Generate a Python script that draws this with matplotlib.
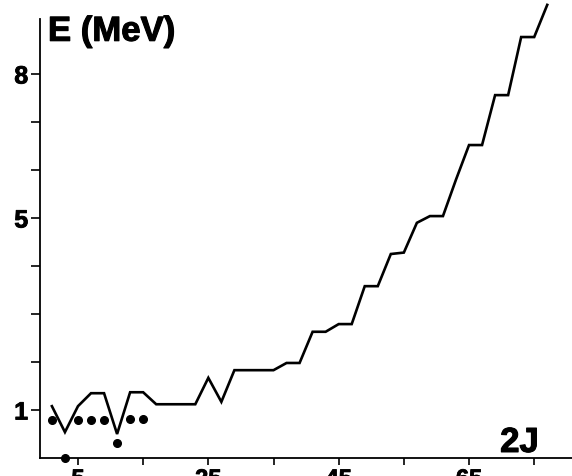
import matplotlib
matplotlib.use("Agg")
import matplotlib.pyplot as plt
import matplotlib.patheffects as pe

# data
two_j = [1, 3, 5, 7, 9, 11, 13, 15, 17, 19, 21, 23, 25, 27, 29, 31, 33, 35, 37, 39,
         41, 43, 45, 47, 49, 51, 53, 55, 57, 59, 61, 63, 65, 67, 69, 71, 73, 75, 77]
energy = [1.08, 0.54, 1.08, 1.35, 1.35, 0.50, 1.37, 1.37, 1.12, 1.12, 1.12, 1.12, 1.67, 1.17,
          1.83, 1.83, 1.83, 1.83, 1.98, 1.98, 2.63, 2.63, 2.79, 2.79, 3.58, 3.58, 4.25, 4.28,
          4.90, 5.04, 5.04, 5.80, 6.52, 6.52, 7.56, 7.56, 8.77, 8.77, 9.44]
dot_j = [1, 3, 5, 7, 9, 11, 13, 15]
dot_e = [0.80, 0.0, 0.80, 0.80, 0.80, 0.31, 0.81, 0.81]

x_ticks = [5, 15, 25, 35, 45, 55, 65, 75]
x_ticklabels = ["5", "", "25", "", "45", "", "65", ""]
y_ticks = [1, 2, 3, 4, 5, 6, 7, 8]
y_ticklabels = ["1", "", "", "", "5", "", "", "8"]

plt.rcParams['font.family'] = ['Liberation Sans', 'DejaVu Sans']

fig = plt.figure(figsize=(5.72, 4.77), dpi=100)
ax = fig.add_axes([0.0699, 0.0377, 0.9301, 0.956])

ax.plot(two_j, energy, color='black', lw=1.9, solid_joinstyle='miter')
ax.plot(dot_j, dot_e, 'o', color='black', ms=5.5, clip_on=False, zorder=5)

ax.set_xlim(-0.83, 80.8)
ax.set_ylim(0, 9.5)

for s in ['top', 'right']:
    ax.spines[s].set_visible(False)
ax.spines['left'].set_bounds(0, 9.15)
ax.spines['left'].set_linewidth(1.3)
ax.spines['bottom'].set_linewidth(1.3)

thick = [pe.withStroke(linewidth=0.6, foreground='black')]

ax.set_xticks(x_ticks)
ax.set_xticklabels(x_ticklabels, fontsize=17, fontweight='bold')
ax.set_yticks(y_ticks)
ax.set_yticklabels(y_ticklabels, fontsize=18, fontweight='bold')
for lab in ax.get_xticklabels() + ax.get_yticklabels():
    lab.set_path_effects(thick)
ax.tick_params(axis='y', direction='out', length=6.5, width=1.2, pad=2)
ax.tick_params(axis='x', direction='out', length=5, width=1.2, pad=2)

big = [pe.withStroke(linewidth=0.8, foreground='black')]
ax.text(0.015, 0.972, "E (MeV)", transform=ax.transAxes, fontsize=25, fontweight='bold',
        ha='left', va='top', path_effects=big)
ax.text(0.865, -0.002, "2J", transform=ax.transAxes, fontsize=25, fontweight='bold',
        ha='left', va='bottom', path_effects=big)

fig.savefig("out.png", dpi=100)
